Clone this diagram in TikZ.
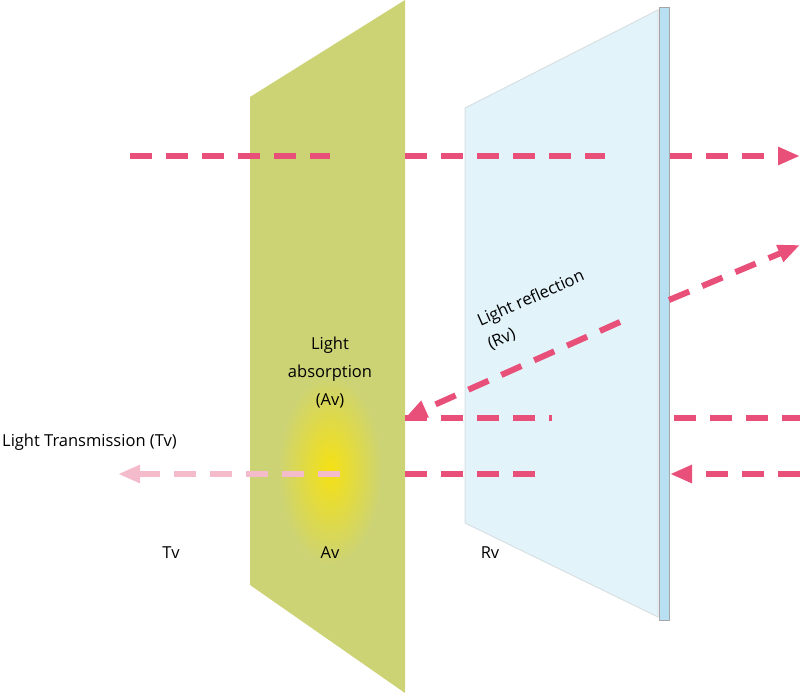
\documentclass[tikz,border=0pt]{standalone}
\usepackage{fontspec}
\setmainfont{Open Sans}
\usetikzlibrary{arrows.meta}
\definecolor{grn}{HTML}{CCD375}
\definecolor{pan}{HTML}{E2F3FA}
\definecolor{strip}{HTML}{B9E0F2}
\definecolor{ray}{HTML}{E8507A}
\definecolor{pale}{HTML}{F4BBCB}
\begin{document}
\begin{tikzpicture}[x=1pt,y=-1pt,
  ray/.style={draw=ray,line width=6pt,dash pattern=on 22pt off 14pt},
  tip/.style={-{Triangle[length=22pt,width=17pt]}},
  lbl/.style={font=\fontsize{16.5}{28}\selectfont,align=center,inner sep=1pt}]
\useasboundingbox (0,0) rectangle (800,696);
\fill[grn] (250,97) -- (405,0) -- (405,693) -- (250,585) -- cycle;
\shade[inner color={rgb,255:red,245;green,225;blue,20},outer color=grn] (330,470) ellipse [x radius=52,y radius=95];
\filldraw[fill=pan,draw={rgb,255:red,216;green,224;blue,228},line width=1pt] (465,108) -- (658,10) -- (658,617) -- (465,523) -- cycle;
\filldraw[fill=strip,draw=gray!70,line width=0.8pt] (659,7) rectangle (669,620);
\node[lbl] (abs) at (330,373) {Light\\absorption\\(Av)};
\node[lbl,rotate=24,align=left,font=\fontsize{16.5}{25}\selectfont] (refl) at (536,310) {Light reflection\\(Rv)};
\node[lbl,anchor=west] (tr) at (1,442) {Light Transmission (Tv)};
\node[lbl] (tv) at (171,553) {Tv};
\node[lbl] (av) at (330,553) {Av};
\node[lbl] (rvb) at (490,553) {Rv};
\coordinate (a1) at (130,156); \coordinate (a2) at (330,156);
\coordinate (a3) at (405,156); \coordinate (a4) at (605,156);
\coordinate (a5) at (670,156); \coordinate (a6) at (800,156);
\draw[ray] (a1) -- (a2); \draw[ray] (a3) -- (a4); \draw[ray,tip] (a5) -- (a6);
\coordinate (r1) at (620,322); \coordinate (r2) at (405,418);
\coordinate (r3) at (669,300); \coordinate (r4) at (800,245);
\draw[ray,tip] (r1) -- (r2); \draw[ray,tip] (r3) -- (r4);
\coordinate (b1) at (405,418); \coordinate (b2) at (552,418);
\coordinate (b3) at (674,418); \coordinate (b4) at (800,418);
\draw[ray] (b1) -- (b2); \draw[ray] (b3) -- (b4);
\coordinate (c1) at (800,474); \coordinate (c2) at (670,474);
\coordinate (c3) at (405,474); \coordinate (c4) at (540,474);
\coordinate (c5) at (340,474); \coordinate (c6) at (118,474);
\draw[ray,tip] (c1) -- (c2); \draw[ray] (c3) -- (c4);
\draw[ray,draw=pale,tip] (c5) -- (c6);
\end{tikzpicture}
\end{document}
